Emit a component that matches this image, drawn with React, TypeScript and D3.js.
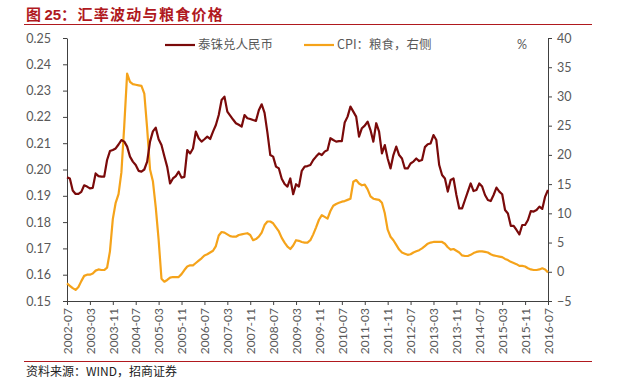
import React, { useRef, useEffect } from "react";
import * as d3 from "d3";

// monthly data, 2002-07 .. 2016-07
const startMonth = new Date(2002, 6, 1);
const endMonth = new Date(2016, 6, 1);

const tickLabels = [
  "2002-07", "2003-03", "2003-11", "2004-07", "2005-03", "2005-11",
  "2006-07", "2007-03", "2007-11", "2008-07", "2009-03", "2009-11",
  "2010-07", "2011-03", "2011-11", "2012-07", "2013-03", "2013-11",
  "2014-07", "2015-03", "2015-11", "2016-07",
];

const leftTicks = [0.15, 0.16, 0.17, 0.18, 0.19, 0.2, 0.21, 0.22, 0.23, 0.24, 0.25];
const rightTicks = [-5, 0, 5, 10, 15, 20, 25, 30, 35, 40];

// 泰铢兑人民币 (one row = 12 months, starting each July)
const thbCny = [
  0.197, 0.1966, 0.192, 0.1907, 0.1907, 0.1915, 0.194, 0.1935, 0.1928, 0.193, 0.1985, 0.1975,
  0.1973, 0.1973, 0.2036, 0.207, 0.2074, 0.208, 0.2095, 0.2112, 0.2106, 0.2087, 0.2049, 0.203,
  0.2017, 0.1995, 0.1992, 0.2, 0.203, 0.2106, 0.2145, 0.2159, 0.2115, 0.2093, 0.205, 0.201,
  0.1947, 0.1966, 0.1975, 0.1992, 0.1969, 0.1972, 0.2074, 0.2061, 0.208, 0.2144, 0.2119, 0.2106,
  0.2115, 0.2125, 0.2116, 0.2144, 0.2169, 0.2207, 0.2264, 0.2277, 0.222, 0.2205, 0.219, 0.2176,
  0.217, 0.2163, 0.2207, 0.2195, 0.2192, 0.2188, 0.2185, 0.2225, 0.2248, 0.2215, 0.214, 0.2055,
  0.2049, 0.2011, 0.2004, 0.1965, 0.1945, 0.1935, 0.1966, 0.1906, 0.1944, 0.1935, 0.1995, 0.2011,
  0.2013, 0.2017, 0.2036, 0.2049, 0.2061, 0.2055, 0.2068, 0.2074, 0.2119, 0.2112, 0.2106, 0.2108,
  0.2108, 0.2179, 0.2201, 0.2239, 0.222, 0.2201, 0.2125, 0.2157, 0.2167, 0.2182, 0.215, 0.2106,
  0.2176, 0.2144, 0.2061, 0.2093, 0.2042, 0.2004, 0.2055, 0.2087, 0.2055, 0.2042, 0.2004, 0.2004,
  0.2023, 0.203, 0.2042, 0.2032, 0.2036, 0.2085, 0.2096, 0.2099, 0.2131, 0.2112, 0.2017, 0.1979,
  0.1966, 0.1916, 0.196, 0.1966, 0.1903, 0.1852, 0.1852, 0.1884, 0.1916, 0.1947, 0.1918, 0.1922,
  0.1947, 0.1935, 0.1903, 0.1884, 0.188, 0.1903, 0.1931, 0.1916, 0.1906, 0.1846, 0.1833, 0.1786,
  0.1786, 0.177, 0.1753, 0.1789, 0.1789, 0.1808, 0.1842, 0.184, 0.1846, 0.1859, 0.185, 0.1897,
  0.1922,
];

// CPI：粮食 (%), right axis
const cpiFood = [
  -2.0, -2.4, -2.8, -3.1, -2.6, -1.6, -0.7, -0.5, -0.5, -0.3, 0.2, 0.4,
  0.3, 0.3, 0.7, 3.5, 9.0, 11.8, 13.3, 17.0, 25.0, 33.9, 32.5, 32.1,
  32.0, 31.9, 31.8, 30.5, 24.5, 17.5, 15.5, 11.0, 5.5, -1.2, -1.7, -1.4,
  -1.0, -0.9, -0.9, -0.9, -0.4, 0.3, 0.9, 1.1, 1.1, 1.5, 1.9, 2.3,
  2.8, 3.0, 3.3, 3.6, 4.4, 6.2, 6.8, 6.7, 6.4, 6.1, 6.0, 6.0,
  6.3, 6.4, 6.5, 6.6, 6.3, 5.4, 5.6, 6.0, 6.7, 8.0, 8.6, 8.6,
  8.3, 7.6, 6.9, 5.8, 5.0, 4.3, 3.9, 4.5, 5.4, 5.3, 5.1, 5.0,
  5.0, 5.4, 6.4, 7.6, 8.9, 9.7, 9.4, 9.1, 10.4, 11.3, 11.6, 11.8,
  12.0, 12.1, 12.3, 12.5, 15.4, 15.7, 15.1, 14.8, 14.9, 14.1, 12.9, 12.5,
  12.4, 12.3, 11.8, 10.0, 7.2, 6.0, 5.4, 4.6, 3.8, 3.3, 3.1, 2.9,
  3.0, 3.3, 3.5, 3.7, 4.0, 4.4, 4.8, 5.0, 5.1, 5.1, 5.1, 5.1,
  4.8, 4.2, 3.8, 3.9, 3.6, 3.3, 2.8, 2.7, 2.7, 2.9, 3.2, 3.4,
  3.5, 3.5, 3.4, 3.3, 3.0, 2.8, 2.7, 2.6, 2.5, 2.2, 2.0, 1.7,
  1.5, 1.3, 1.0, 1.0, 0.9, 0.6, 0.4, 0.3, 0.3, 0.4, 0.6, 0.4,
  -0.1,
];

const RED = "#7a0a0a";
const ORANGE = "#f5a31a";
const GREY = "#595959";
const TITLE_RED = "#b0191e";
const NUM_FONT = "Lato, 'Noto Sans', sans-serif";
const CJK_FONT = "'Noto Sans CJK SC', sans-serif";

const App: React.FC = () => {
  const ref = useRef<SVGSVGElement | null>(null);

  useEffect(() => {
    if (!ref.current) return;
    const width = 617;
    const height = 388;
    const plot = { left: 67, right: 548, top: 38, bottom: 301 };

    const svg = d3.select(ref.current);
    svg.selectAll("*").remove();
    svg.append("rect").attr("width", width).attr("height", height).attr("fill", "#fff");

    const fmt = d3.timeFormat("%Y-%m");
    const months = d3.timeMonth.range(startMonth, d3.timeMonth.offset(endMonth, 1)).map(fmt);

    const x = d3.scalePoint<string>().domain(months).range([plot.left, plot.right]);
    const yL = d3.scaleLinear().domain([0.15, 0.25]).range([plot.bottom, plot.top]);
    const yR = d3.scaleLinear().domain([-5, 40]).range([plot.bottom, plot.top]);

    // title
    const title = svg
      .append("text")
      .attr("x", 26)
      .attr("y", 20)
      .attr("fill", TITLE_RED)
      .attr("font-weight", "bold")
      .attr("font-size", 15);
    title.append("tspan").attr("font-family", CJK_FONT).text("图 ");
    title.append("tspan").attr("font-family", "'Liberation Sans', Arial, sans-serif").text("25");
    title
      .append("tspan")
      .attr("font-family", CJK_FONT)
      .attr("letter-spacing", 1.3)
      .text("：汇率波动与粮食价格");

    svg
      .append("line")
      .attr("x1", 24)
      .attr("x2", 592)
      .attr("y1", 24.5)
      .attr("y2", 24.5)
      .attr("stroke", TITLE_RED)
      .attr("stroke-width", 1);

    // axes
    const styleAxis = (g: any) => {
      g.select(".domain").attr("stroke", "#404040");
      g.selectAll(".tick line").attr("stroke", "#404040");
      g.selectAll("text").attr("fill", GREY).attr("font-family", NUM_FONT).attr("font-size", 12.5);
    };

    svg
      .append("g")
      .attr("transform", `translate(${plot.left},0)`)
      .call(
        d3.axisLeft(yL).tickValues(leftTicks).tickFormat(d3.format(".2f")).tickSize(4).tickSizeOuter(0).tickPadding(12)
      )
      .call(styleAxis);

    svg
      .append("g")
      .attr("transform", `translate(${plot.right},0)`)
      .call(d3.axisRight(yR).tickValues(rightTicks).tickSize(4).tickSizeOuter(0).tickPadding(5))
      .call(styleAxis);

    const xAxis = svg
      .append("g")
      .attr("transform", `translate(0,${plot.bottom})`)
      .call(d3.axisBottom(x).tickValues(tickLabels).tickSize(4).tickSizeOuter(0))
      .call(styleAxis);
    xAxis
      .selectAll("text")
      .attr("font-size", 12)
      .attr("transform", "rotate(-90)")
      .attr("text-anchor", "end")
      .attr("x", -7)
      .attr("y", 0)
      .attr("dy", "0.35em");

    // lines
    const lineL = d3
      .line<number>()
      .x((_, i) => x(months[i])!)
      .y((d) => yL(d));
    const lineR = d3
      .line<number>()
      .x((_, i) => x(months[i])!)
      .y((d) => yR(d));

    svg
      .append("path")
      .datum(cpiFood)
      .attr("fill", "none")
      .attr("stroke", ORANGE)
      .attr("stroke-width", 2.2)
      .attr("stroke-linejoin", "round")
      .attr("d", lineR);

    svg
      .append("path")
      .datum(thbCny)
      .attr("fill", "none")
      .attr("stroke", RED)
      .attr("stroke-width", 2.2)
      .attr("stroke-linejoin", "round")
      .attr("d", lineL);

    // legend
    const legend = [
      { label: "泰铢兑人民币", color: RED, x: 165 },
      { label: "CPI：粮食，右侧", color: ORANGE, x: 304 },
    ];
    legend.forEach((l) => {
      svg
        .append("line")
        .attr("x1", l.x)
        .attr("x2", l.x + 30)
        .attr("y1", 45)
        .attr("y2", 45)
        .attr("stroke", l.color)
        .attr("stroke-width", 2.2);
      svg
        .append("text")
        .attr("x", l.x + 33)
        .attr("y", 45)
        .attr("dy", "0.35em")
        .attr("fill", GREY)
        .attr("font-family", CJK_FONT)
        .attr("font-size", 12.5)
        .text(l.label);
    });

    svg
      .append("text")
      .attr("x", 517)
      .attr("y", 45)
      .attr("dy", "0.35em")
      .attr("fill", GREY)
      .attr("font-family", NUM_FONT)
      .attr("font-size", 12.5)
      .text("%");

    // source
    svg
      .append("line")
      .attr("x1", 24)
      .attr("x2", 592)
      .attr("y1", 361.5)
      .attr("y2", 361.5)
      .attr("stroke", TITLE_RED)
      .attr("stroke-width", 1);

    svg
      .append("text")
      .attr("x", 26)
      .attr("y", 376)
      .attr("fill", "#222")
      .attr("font-family", CJK_FONT)
      .attr("font-size", 12)
      .text("资料来源：WIND，招商证券");
  }, []);

  return (
    <svg
      ref={ref}
      width={617}
      height={388}
      style={{ position: "absolute", left: 0, top: 0 }}
    />
  );
};

export default App;
